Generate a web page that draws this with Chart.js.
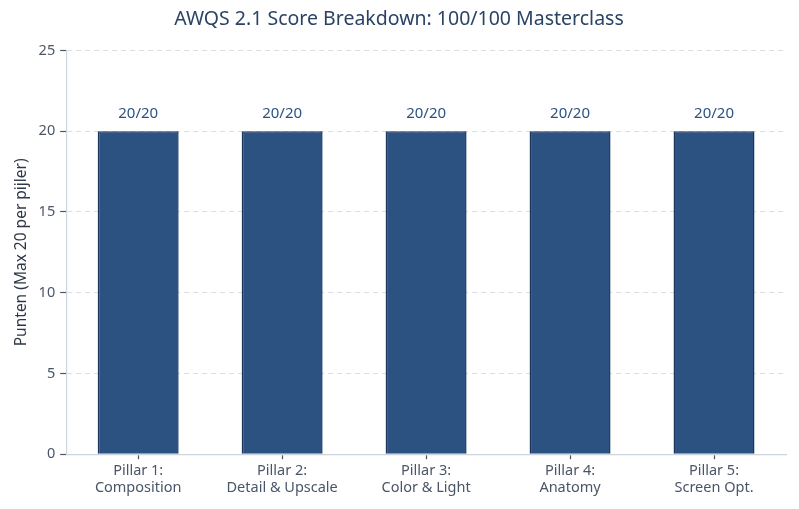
<!DOCTYPE html>
<html>
<head>
<meta charset="utf-8">
<script src="https://cdn.jsdelivr.net/npm/chart.js@4.4.0/dist/chart.umd.min.js"></script>
<style>
  html, body { margin: 0; padding: 0; background: #ffffff; }
  #wrap { width: 799px; height: 509px; }
</style>
</head>
<body>
<div id="wrap"><canvas id="chart"></canvas></div>
<script>
// chart data
const pillars = [
  ['Pillar 1:', 'Composition'],
  ['Pillar 2:', 'Detail & Upscale'],
  ['Pillar 3:', 'Color & Light'],
  ['Pillar 4:', 'Anatomy'],
  ['Pillar 5:', 'Screen Opt.'],
];
const scores = [20, 20, 20, 20, 20];
const maxScores = [20, 20, 20, 20, 20];
const yTicks = [0, 5, 10, 15, 20, 25];

const FONT = "'Noto Sans', sans-serif";

// draws "score/max" above every bar
const valueLabels = {
  id: 'valueLabels',
  afterDatasetsDraw(chart) {
    const { ctx } = chart;
    const meta = chart.getDatasetMeta(0);
    ctx.save();
    ctx.font = `15px ${FONT}`;
    ctx.fillStyle = '#2c5282';
    ctx.textAlign = 'center';
    ctx.textBaseline = 'bottom';
    meta.data.forEach((bar, i) => {
      ctx.fillText(`${scores[i]}/${maxScores[i]}`, bar.x, bar.y - 10);
    });
    ctx.restore();
  },
};

new Chart(document.getElementById('chart'), {
  type: 'bar',
  data: {
    labels: pillars,
    datasets: [{
      data: scores,
      backgroundColor: '#2c5282',
      borderColor: '#1a365d',
      borderWidth: 1.5,
      barPercentage: 0.5625,
      categoryPercentage: 1,
    }],
  },
  options: {
    responsive: true,
    maintainAspectRatio: false,
    animation: false,
    devicePixelRatio: 1,
    layout: { padding: { top: 8, right: 13, bottom: 9, left: 12 } },
    plugins: {
      legend: { display: false },
      tooltip: { enabled: false },
      title: {
        display: true,
        text: 'AWQS 2.1 Score Breakdown: 100/100 Masterclass',
        color: '#2a4365',
        font: { family: FONT, size: 19.5, weight: 'normal' },
        padding: { top: 0, bottom: 19 },
      },
    },
    scales: {
      x: {
        offset: true,
        border: { display: true, color: '#cbd5e0', width: 1.2 },
        grid: {
          offset: false,
          drawOnChartArea: false,
          drawTicks: true,
          tickLength: 5,
          tickColor: '#4a5568',
          tickWidth: 1.2,
          tickBorderDash: [],
        },
        ticks: {
          color: '#4a5568',
          font: { family: FONT, size: 14.5 },
          padding: 3,
          maxRotation: 0,
        },
      },
      y: {
        min: 0,
        max: 25,
        afterBuildTicks(axis) {
          axis.ticks = yTicks.map((v) => ({ value: v }));
        },
        border: { display: true, color: '#cbd5e0', width: 1.2, dash: [5, 4] },
        grid: {
          color: '#d9dee5',
          drawTicks: true,
          tickLength: 6,
          tickColor: '#4a5568',
          tickWidth: 1.2,
          tickBorderDash: [],
        },
        ticks: {
          color: '#4a5568',
          font: { family: FONT, size: 14.5 },
          padding: 5,
        },
        title: {
          display: true,
          text: 'Punten (Max 20 per pijler)',
          color: '#2d3748',
          font: { family: FONT, size: 15.5 },
          padding: { top: 0, bottom: 3 },
        },
      },
    },
  },
  plugins: [valueLabels],
});
</script>
</body>
</html>
